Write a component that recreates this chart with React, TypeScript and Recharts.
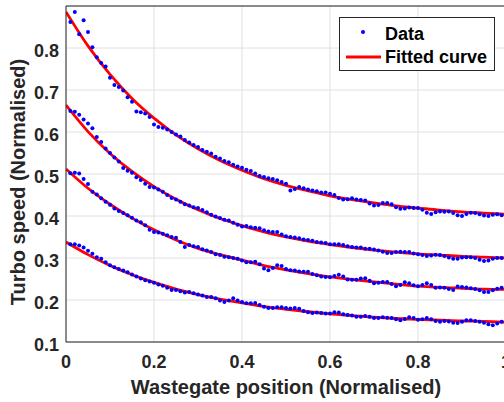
import React from 'react';
import { ComposedChart, Scatter, Line, XAxis, YAxis, CartesianGrid, Legend, Label } from 'recharts';

const xTicks = [0, 0.2, 0.4, 0.6, 0.8, 1];
const yTicks = [0.1, 0.2, 0.3, 0.4, 0.5, 0.6, 0.7, 0.8];

// measured samples, one every 0.01 of wastegate position
const sampleX = Array.from({ length: 100 }, (_, i) => +((i + 1) / 100).toFixed(2));

const dataA = [
  0.862, 0.886, 0.833, 0.866, 0.838, 0.802, 0.778, 0.764, 0.756, 0.729,
  0.712, 0.707, 0.699, 0.683, 0.672, 0.649, 0.647, 0.644, 0.636, 0.618,
  0.612, 0.610, 0.606, 0.600, 0.594, 0.589, 0.581, 0.575, 0.569, 0.564,
  0.557, 0.553, 0.549, 0.541, 0.537, 0.531, 0.528, 0.522, 0.518, 0.515,
  0.510, 0.507, 0.501, 0.495, 0.493, 0.490, 0.488, 0.485, 0.481, 0.477,
  0.461, 0.464, 0.469, 0.466, 0.463, 0.461, 0.459, 0.456, 0.456, 0.453,
  0.450, 0.443, 0.439, 0.440, 0.442, 0.439, 0.438, 0.437, 0.430, 0.425,
  0.426, 0.431, 0.431, 0.428, 0.421, 0.417, 0.418, 0.420, 0.419, 0.419,
  0.415, 0.408, 0.405, 0.409, 0.411, 0.410, 0.411, 0.407, 0.402, 0.400,
  0.405, 0.408, 0.407, 0.404, 0.401, 0.400, 0.403, 0.404, 0.402, 0.401,
];

const dataB = [
  0.650, 0.648, 0.641, 0.630, 0.620, 0.609, 0.588, 0.576, 0.561, 0.550,
  0.539, 0.530, 0.514, 0.508, 0.503, 0.492, 0.486, 0.477, 0.469, 0.468,
  0.463, 0.458, 0.450, 0.443, 0.439, 0.434, 0.428, 0.425, 0.421, 0.419,
  0.414, 0.409, 0.403, 0.399, 0.395, 0.391, 0.389, 0.384, 0.379, 0.375,
  0.376, 0.373, 0.372, 0.371, 0.366, 0.363, 0.362, 0.362, 0.356, 0.352,
  0.350, 0.349, 0.347, 0.344, 0.343, 0.341, 0.338, 0.337, 0.336, 0.333,
  0.333, 0.333, 0.331, 0.328, 0.326, 0.325, 0.325, 0.322, 0.322, 0.320,
  0.318, 0.315, 0.312, 0.312, 0.314, 0.315, 0.314, 0.314, 0.311, 0.309,
  0.307, 0.305, 0.306, 0.308, 0.307, 0.305, 0.301, 0.298, 0.298, 0.301,
  0.302, 0.302, 0.300, 0.296, 0.293, 0.294, 0.298, 0.300, 0.300, 0.299,
];

const dataC = [
  0.502, 0.503, 0.501, 0.488, 0.476, 0.458, 0.451, 0.442, 0.434, 0.427,
  0.418, 0.412, 0.407, 0.402, 0.396, 0.389, 0.385, 0.378, 0.367, 0.362,
  0.361, 0.358, 0.354, 0.350, 0.348, 0.338, 0.326, 0.331, 0.328, 0.326,
  0.321, 0.318, 0.314, 0.309, 0.307, 0.303, 0.302, 0.300, 0.298, 0.294,
  0.290, 0.290, 0.291, 0.285, 0.275, 0.271, 0.276, 0.283, 0.281, 0.274,
  0.271, 0.270, 0.268, 0.267, 0.267, 0.262, 0.259, 0.256, 0.255, 0.254,
  0.257, 0.260, 0.256, 0.249, 0.248, 0.248, 0.251, 0.252, 0.246, 0.240,
  0.241, 0.243, 0.243, 0.238, 0.233, 0.236, 0.242, 0.240, 0.235, 0.233,
  0.236, 0.240, 0.236, 0.229, 0.230, 0.229, 0.226, 0.224, 0.232, 0.231,
  0.230, 0.228, 0.226, 0.223, 0.219, 0.219, 0.223, 0.227, 0.229, 0.228,
];

const dataD = [
  0.333, 0.333, 0.330, 0.325, 0.317, 0.310, 0.302, 0.298, 0.290, 0.283,
  0.278, 0.274, 0.270, 0.266, 0.261, 0.256, 0.251, 0.247, 0.244, 0.241,
  0.237, 0.234, 0.229, 0.224, 0.224, 0.221, 0.218, 0.219, 0.216, 0.213,
  0.211, 0.207, 0.207, 0.204, 0.199, 0.195, 0.199, 0.204, 0.199, 0.195,
  0.192, 0.192, 0.193, 0.188, 0.184, 0.181, 0.181, 0.183, 0.183, 0.181,
  0.180, 0.181, 0.179, 0.174, 0.171, 0.169, 0.170, 0.169, 0.168, 0.168,
  0.171, 0.170, 0.166, 0.164, 0.163, 0.160, 0.160, 0.162, 0.160, 0.157,
  0.157, 0.159, 0.158, 0.157, 0.154, 0.152, 0.155, 0.159, 0.157, 0.153,
  0.154, 0.157, 0.154, 0.150, 0.148, 0.150, 0.149, 0.146, 0.145, 0.148,
  0.152, 0.152, 0.150, 0.148, 0.146, 0.142, 0.140, 0.144, 0.148, 0.148,
];

// fitted curves, read every 0.05
const fitX = [0, 0.05, 0.1, 0.15, 0.2, 0.25, 0.3, 0.35, 0.4, 0.45, 0.5, 0.55, 0.6, 0.65, 0.7, 0.75, 0.8, 0.85, 0.9, 0.95, 1];
const fitA = [0.886, 0.805, 0.737, 0.680, 0.633, 0.593, 0.560, 0.532, 0.509, 0.489, 0.473, 0.460, 0.448, 0.439, 0.431, 0.424, 0.419, 0.414, 0.410, 0.407, 0.404];
const fitB = [0.664, 0.601, 0.549, 0.506, 0.470, 0.440, 0.415, 0.394, 0.377, 0.362, 0.350, 0.340, 0.332, 0.325, 0.319, 0.314, 0.310, 0.307, 0.304, 0.302, 0.300];
const fitC = [0.512, 0.466, 0.428, 0.395, 0.367, 0.343, 0.323, 0.308, 0.295, 0.282, 0.272, 0.263, 0.255, 0.249, 0.243, 0.238, 0.233, 0.230, 0.228, 0.226, 0.225];
const fitD = [0.338, 0.308, 0.282, 0.260, 0.242, 0.226, 0.213, 0.202, 0.193, 0.184, 0.178, 0.172, 0.167, 0.163, 0.159, 0.156, 0.154, 0.152, 0.150, 0.149, 0.147];

const pts = (xs: number[], ys: number[]) => xs.map((x, i) => ({ x, y: ys[i] }));

const FONT = '"Liberation Sans", Arial, Helvetica, sans-serif';
const INK = '#262626';

const Dot = (p: any) => <circle cx={p.cx} cy={p.cy} r={2} fill="#0000ff" />;

const XTick = ({ x, y, payload }: any) => (
  <text x={x} y={y} dy={26} textAnchor="middle" fontFamily={FONT} fontWeight="bold" fontSize={18} fill={INK}>
    {String(payload.value)}
  </text>
);

const YTick = ({ x, y, payload }: any) => (
  <text x={x} y={y} dx={-7} dy={8.5} textAnchor="end" fontFamily={FONT} fontWeight="bold" fontSize={18} fill={INK}>
    {String(payload.value)}
  </text>
);

const LegendBox = () => (
  <div style={{ width: 156, height: 54, boxSizing: 'border-box', border: `1px solid ${INK}`, background: '#fff' }}>
    <svg width={154} height={52} style={{ display: 'block' }}>
      <circle cx={23} cy={14} r={2} fill="#0000ff" />
      <line x1={6} y1={39} x2={41} y2={39} stroke="#ff0000" strokeWidth={2.8} />
      <text x={45} y={22} fontFamily={FONT} fontWeight="bold" fontSize={18} fill="#000">Data</text>
      <text x={45} y={45} fontFamily={FONT} fontWeight="bold" fontSize={18} fill="#000">Fitted curve</text>
    </svg>
  </div>
);

const series = [
  { d: dataA, f: fitA },
  { d: dataB, f: fitB },
  { d: dataC, f: fitC },
  { d: dataD, f: fitD },
];

export default function App() {
  return (
    <div style={{ position: 'absolute', left: 0, top: 0, width: 504, height: 402, overflow: 'hidden', background: '#fff' }}>
      <ComposedChart width={520} height={402} margin={{ top: 6, right: 14, bottom: 0, left: 0 }}>
        <CartesianGrid stroke="#e0e0e0" strokeWidth={1} />
        <XAxis
          dataKey="x" type="number" domain={[0, 1]} ticks={xTicks} allowDataOverflow
          height={60} tickLine={false} tickSize={0} tickMargin={0}
          axisLine={{ stroke: INK, strokeWidth: 1 }} tick={<XTick />}
        >
          <Label
            content={({ viewBox }: any) => (
              <text x={viewBox.x + viewBox.width / 2} y={viewBox.y + 52} textAnchor="middle"
                fontFamily={FONT} fontWeight="bold" fontSize={20} fill={INK}>
                Wastegate position (Normalised)
              </text>
            )}
          />
        </XAxis>
        <XAxis xAxisId="bin" dataKey="x" type="number" domain={[0, 1]} ticks={xTicks} allowDataOverflow
          mirror tick={false} tickSize={5} tickLine={{ stroke: INK }} axisLine={false} />
        <XAxis xAxisId="top" orientation="top" dataKey="x" type="number" domain={[0, 1]} ticks={xTicks} allowDataOverflow
          mirror tick={false} tickSize={5} tickLine={{ stroke: INK }} axisLine={{ stroke: INK }} />
        <YAxis
          type="number" domain={[0.1, 0.9]} ticks={yTicks} allowDataOverflow width={66}
          tickLine={false} tickSize={0} tickMargin={0}
          axisLine={{ stroke: INK, strokeWidth: 1 }} tick={<YTick />}
        >
          <Label
            content={({ viewBox }: any) => {
              const cx = 25;
              const cy = viewBox.y + viewBox.height / 2 + 8;
              return (
                <text x={cx} y={cy} transform={`rotate(-90, ${cx}, ${cy})`} textAnchor="middle"
                  fontFamily={FONT} fontWeight="bold" fontSize={20} fill={INK}>
                  Turbo speed (Normalised)
                </text>
              );
            }}
          />
        </YAxis>
        <YAxis yAxisId="lin" type="number" domain={[0.1, 0.9]} ticks={yTicks} allowDataOverflow
          mirror tick={false} tickSize={5} tickLine={{ stroke: INK }} axisLine={false} />
        <YAxis yAxisId="right" orientation="right" type="number" domain={[0.1, 0.9]} ticks={yTicks} allowDataOverflow
          mirror tick={false} tickSize={5} tickLine={{ stroke: INK }} axisLine={{ stroke: INK }} />

        {series.map((s, i) => (
          <Scatter key={`d${i}`} data={pts(sampleX, s.d)} dataKey="y" shape={Dot} isAnimationActive={false} legendType="none" />
        ))}
        {series.map((s, i) => (
          <Line key={`f${i}`} data={pts(fitX, s.f)} dataKey="y" type="monotone" stroke="#ff0000" strokeWidth={2.8}
            dot={false} activeDot={false} isAnimationActive={false} legendType="none" />
        ))}

        <Legend
          layout="horizontal" verticalAlign="middle" align="center"
          wrapperStyle={{ position: 'absolute', left: 339, top: 17, width: 156, height: 54 }}
          content={() => <LegendBox />}
        />
      </ComposedChart>
    </div>
  );
}
